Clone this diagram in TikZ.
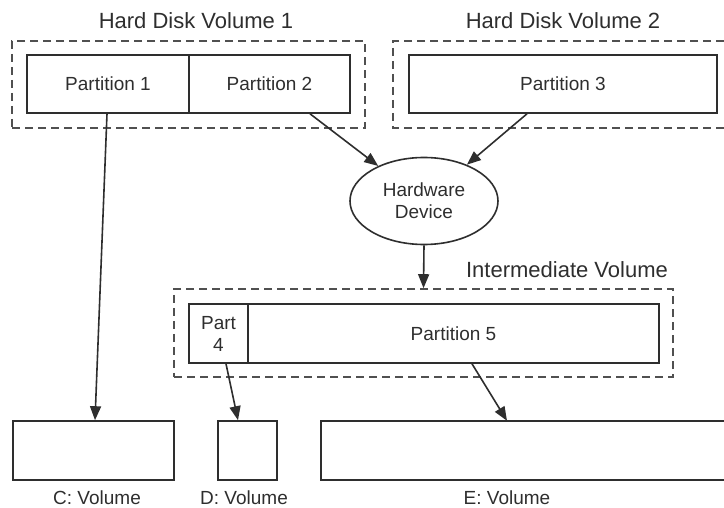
\documentclass[tikz,border=0pt]{standalone}
\usepackage{fontspec}
\setmainfont{Liberation Sans}
\usetikzlibrary{arrows.meta,shapes.geometric}
\definecolor{ink}{HTML}{2E2E2E}
\definecolor{dashink}{HTML}{505050}
\begin{document}
\begin{tikzpicture}[x=1pt,y=-1pt,
  box/.style={draw=ink,line width=1.6pt,rectangle,inner sep=0pt,minimum height=58pt,text=ink,font=\fontsize{19}{22}\selectfont},
  volbox/.style={rectangle,inner sep=0pt,minimum height=59pt},
  group/.style={draw=dashink,line width=1.6pt,dash pattern=on 8pt off 5pt,rectangle,inner sep=0pt},
  title/.style={text=ink,font=\fontsize{22}{26}\selectfont},
  caption/.style={text=ink,font=\fontsize{19}{22}\selectfont},
  link/.style={draw=ink,line width=1.6pt,-{Triangle[length=14pt,width=11pt]}}]
\useasboundingbox (0,0) rectangle (724,508);

% Hard disk volume 1
\node[title] (t1) at (196,21) {Hard Disk Volume 1};
\node[group,minimum width=353pt,minimum height=87pt] (g1) at (188.5,84.5) {};
\node[box,minimum width=162pt] (p1) at (108,84) {Partition 1};
\node[box,minimum width=161pt] (p2) at (269.5,84) {Partition 2};

% Hard disk volume 2 (runs off the right edge)
\node[title] (t2) at (563,21) {Hard Disk Volume 2};
\coordinate (g2a) at (724,41);
\coordinate (g2b) at (393,41);
\coordinate (g2c) at (393,128);
\coordinate (g2d) at (724,128);
\draw[draw=dashink,line width=1.6pt,dash pattern=on 8pt off 5pt] (g2a) -- (g2b) -- (g2c) -- (g2d);
\node[box,minimum width=308pt] (p3) at (563,84) {Partition 3};

% Hardware device
\node[ellipse,draw=ink,line width=1.6pt,minimum width=148pt,minimum height=87pt,inner sep=0pt,
      text=ink,font=\fontsize{19}{22}\selectfont,align=center] (hw) at (424,201) {Hardware\\Device};

% Intermediate volume
\node[title] (t3) at (567,270) {Intermediate Volume};
\node[group,minimum width=499pt,minimum height=88pt] (g3) at (423.5,333) {};
\node[box,minimum width=59pt,minimum height=59pt,align=center] (p4) at (218.5,333.5) {Part\\4};
\node[box,minimum width=411pt,minimum height=59pt] (p5) at (453.5,333.5) {Partition 5};

% Resulting volumes
\node[box,minimum width=161pt,minimum height=59pt] (c) at (93.5,450.5) {};
\node[box,minimum width=59pt,minimum height=59pt] (d) at (247.5,450.5) {};
\node[volbox,minimum width=403pt] (e) at (522.5,450.5) {};
\draw[draw=ink,line width=1.6pt] (e.north east) -- (e.north west) -- (e.south west) -- (e.south east);
\node[caption] (cl) at (97,498) {C: Volume};
\node[caption] (dl) at (244,498) {D: Volume};
\node[caption] (el) at (507,498) {E: Volume};

% Connectors
\draw[link] ([xshift=-1pt]p1.south) -- ([xshift=1.5pt]c.north);
\draw[link] ([xshift=40.5pt]p2.south) -- (hw);
\draw[link] ([xshift=-36pt]p3.south) -- (hw);
\draw[link] (hw.south) -- (g3.north);
\draw[link] ([xshift=7.5pt]p4.south) -- ([xshift=-9.5pt]d.north);
\draw[link] ([xshift=18.5pt]p5.south) -- ([xshift=-15.5pt]e.north);
\end{tikzpicture}
\end{document}
